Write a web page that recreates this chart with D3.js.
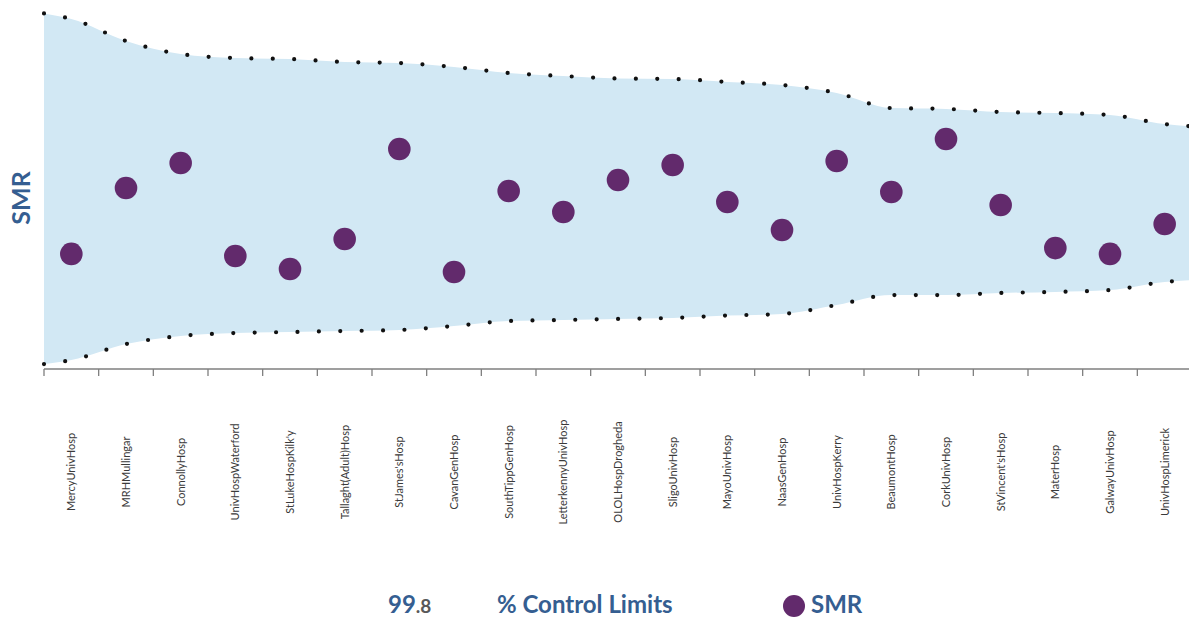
<!DOCTYPE html>
<html><head><meta charset="utf-8">
<script src="https://cdn.jsdelivr.net/npm/d3@7"></script>
<style>body{margin:0;background:#fff}svg{display:block}</style>
</head><body><svg id="c" width="1189" height="618"></svg>
<script>
const categories = ["MercyUnivHosp","MRHMullingar","ConnollyHosp","UnivHospWaterford","StLukeHospKilk'y","Tallaght(Adult)Hosp","StJames'sHosp","CavanGenHosp","SouthTippGenHosp","LetterkennyUnivHosp","OLOLHospDrogheda","SligoUnivHosp","MayoUnivHosp","NaasGenHosp","UnivHospKerry","BeaumontHosp","CorkUnivHosp","StVincent'sHosp","MaterHosp","GalwayUnivHosp","UnivHospLimerick"];
const smr = [0.669,1.052,1.198,0.657,0.581,0.756,1.279,0.564,1.035,0.913,1.099,1.186,0.971,0.808,1.209,1.029,1.337,0.953,0.703,0.669,0.843];
const upperLimit = [2.035,1.907,1.831,1.808,1.802,1.785,1.779,1.756,1.721,1.703,1.689,1.686,1.669,1.651,1.605,1.517,1.512,1.494,1.488,1.477,1.424];
const lowerLimit = [0.052,0.145,0.192,0.209,0.215,0.221,0.227,0.250,0.279,0.285,0.291,0.297,0.311,0.320,0.372,0.430,0.430,0.442,0.448,0.459,0.506];
const legendLimit = "99.8";

const svg = d3.select("#c");
const x = d3.scaleBand().domain(categories).range([44, 1192]);
const y = d3.scaleLinear().domain([0, 2.058]).range([369, 15]);
const bw = x.bandwidth();
const n = categories.length;

const pts = categories.map((c, i) => ({x: x(c) + bw / 2, u: upperLimit[i], l: lowerLimit[i]}));
// extend the band half a category to each plot edge, continuing the local trend a little
const k = 0.25;
const ext = [
  {x: x.range()[0], u: upperLimit[0] + (upperLimit[0] - upperLimit[1]) * k, l: lowerLimit[0] + (lowerLimit[0] - lowerLimit[1]) * k},
  ...pts,
  {x: x.range()[1], u: upperLimit[n - 1] + (upperLimit[n - 1] - upperLimit[n - 2]) * k, l: lowerLimit[n - 1] + (lowerLimit[n - 1] - lowerLimit[n - 2]) * k}
];

svg.append("path").datum(ext)
  .attr("d", d3.area().x(d => d.x).y0(d => y(d.l)).y1(d => y(d.u)).curve(d3.curveMonotoneX))
  .attr("fill", "#d2e8f4");

const lineU = d3.line().x(d => d.x).y(d => y(d.u)).curve(d3.curveMonotoneX);
const lineL = d3.line().x(d => d.x).y(d => y(d.l)).curve(d3.curveMonotoneX);
[lineU, lineL].forEach(g => {
  svg.append("path").datum(ext).attr("d", g)
    .attr("fill", "none").attr("stroke", "#111").attr("stroke-width", 4.2)
    .attr("stroke-linecap", "round").attr("stroke-dasharray", "0 21.4");
});

// axis
const ax = svg.append("g");
ax.append("line").attr("x1", x.range()[0]).attr("x2", 1189).attr("y1", 369).attr("y2", 369)
  .attr("stroke", "#7f7f7f").attr("stroke-width", 1.5);
ax.selectAll("line.t").data(categories).join("line").attr("class", "t")
  .attr("x1", d => x(d)).attr("x2", d => x(d)).attr("y1", 369).attr("y2", 376)
  .attr("stroke", "#7f7f7f").attr("stroke-width", 1.3);
ax.selectAll("text").data(categories).join("text")
  .attr("transform", d => `translate(${x(d) + bw / 2 + 4},472) rotate(-90)`)
  .attr("text-anchor", "middle")
  .attr("font-family", "Lato, 'Open Sans', sans-serif").attr("font-size", 11)
  .attr("fill", "#3a3a3a").text(d => d);

// points
svg.selectAll("circle.p").data(categories).join("circle").attr("class", "p")
  .attr("cx", d => x(d) + bw / 2).attr("cy", (d, i) => y(smr[i])).attr("r", 11.3)
  .attr("fill", "#622a6c");

// y title
svg.append("text").attr("transform", "translate(30,198) rotate(-90)")
  .attr("text-anchor", "middle").attr("font-family", "Lato, sans-serif").attr("font-weight", "bold")
  .attr("font-size", 25).attr("fill", "#355e91").text("SMR");

// legend
const fs = 24, base = 613;
const lg = svg.append("text").attr("x", 388).attr("y", base)
  .attr("font-family", "Lato, sans-serif").attr("font-weight", "bold").attr("font-size", fs).attr("fill", "#355e91");
const parts = legendLimit.split(".");
lg.append("tspan").text(parts[0]);
lg.append("tspan").attr("fill", "#595959").attr("font-size", 19).text("." + parts[1]);
svg.append("text").attr("x", 497).attr("y", base)
  .attr("font-family", "Lato, sans-serif").attr("font-weight", "bold").attr("font-size", fs).attr("fill", "#355e91")
  .text("% Control Limits");
svg.append("circle").attr("cx", 794).attr("cy", 606).attr("r", 11).attr("fill", "#622a6c");
svg.append("text").attr("x", 811).attr("y", base)
  .attr("font-family", "Lato, sans-serif").attr("font-weight", "bold").attr("font-size", fs).attr("fill", "#355e91")
  .text("SMR");
</script></body></html>
